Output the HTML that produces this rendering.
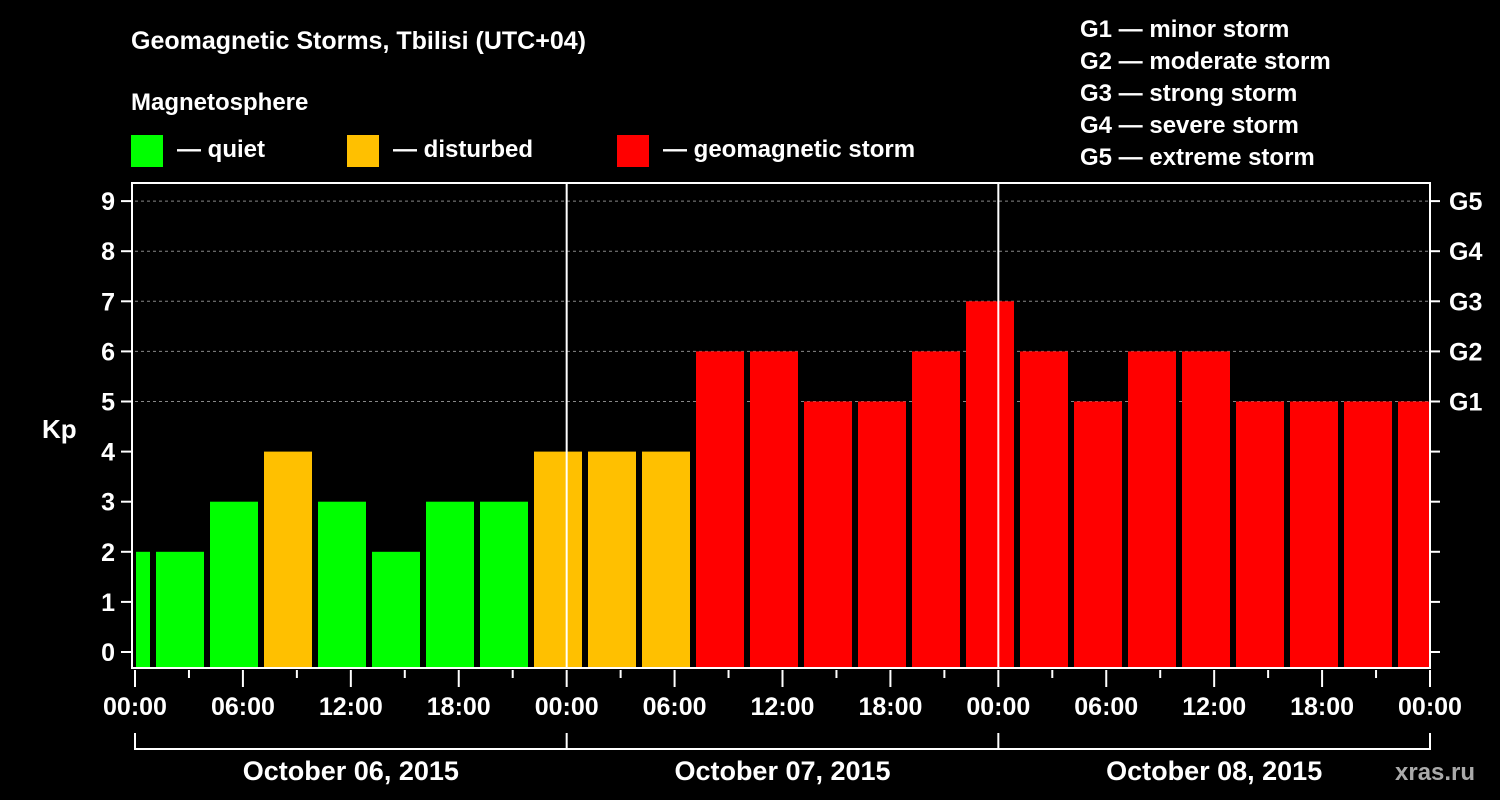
<!DOCTYPE html>
<html><head><meta charset="utf-8"><style>
html,body{margin:0;padding:0;background:#000;width:1500px;height:800px;overflow:hidden}
svg text{font-family:"Liberation Sans",Arial,sans-serif;font-weight:bold;fill:#fff}
</style></head><body>
<svg id="chart" width="1500" height="800" xmlns="http://www.w3.org/2000/svg">
<text x="131" y="49" font-size="25">Geomagnetic Storms, Tbilisi (UTC+04)</text>
<text x="131" y="110" font-size="24">Magnetosphere</text>
<g><rect x="131" y="135" width="32" height="32" fill="#00ff00"/><text x="177" y="157" font-size="24">— quiet</text></g>
<g><rect x="347" y="135" width="32" height="32" fill="#ffc000"/><text x="393" y="157" font-size="24">— disturbed</text></g>
<g><rect x="617" y="135" width="32" height="32" fill="#ff0000"/><text x="663" y="157" font-size="24">— geomagnetic storm</text></g>
<g font-size="24">
<text x="1080" y="37">G1 — minor storm</text>
<text x="1080" y="69">G2 — moderate storm</text>
<text x="1080" y="101">G3 — strong storm</text>
<text x="1080" y="133">G4 — severe storm</text>
<text x="1080" y="165">G5 — extreme storm</text>
</g>
<text x="42" y="438" font-size="26">Kp</text>
<g id="grid"></g><g id="bars"></g><g id="axes"></g>
<text x="1395" y="780" font-size="24" fill="#aaa" style="fill:#aaa">xras.ru</text>
</svg>
<script>
const kpValues=[2,2,3,4,3,2,3,3,4,4,4,6,6,5,5,6,7,6,5,6,6,5,5,5,5];
const yTicks=[0,1,2,3,4,5,6,7,8,9];
const gLabels=["G1","G2","G3","G4","G5"];
const xLabels=["00:00","06:00","12:00","18:00","00:00","06:00","12:00","18:00","00:00","06:00","12:00","18:00","00:00"];
const dayLabels=["October 06, 2015","October 07, 2015","October 08, 2015"];
const NS="http://www.w3.org/2000/svg";
const L=135,R=1430,T=183,B=668;
const pxPerHour=(R-L)/72;
const xH=h=>L+h*pxPerHour;
const yK=v=>652-v*50.1;
function mk(p,tag,at){const e=document.createElementNS(NS,tag);for(const k in at)e.setAttribute(k,at[k]);p.appendChild(e);return e;}
const grid=document.getElementById('grid'),bars=document.getElementById('bars'),axes=document.getElementById('axes');
// dashed grid 5..9
for(let v=5;v<=9;v++){const l=mk(grid,'line',{x1:L,x2:R,y1:yK(v),y2:yK(v),stroke:'#888','stroke-dasharray':'3,3','stroke-width':1});

}
// bars: each 3h starting at -2h offset (UTC+4 → intervals start at 01:00? aligned to image)
kpValues.forEach((v,i)=>{
 let x0=xH(-2/3*1+3*i-0.6)+0, x1=x0+48;
 x0=L+ (i*54) -33; x1=x0+48;
 x0=Math.max(x0,L+1); x1=Math.min(x1,R-1);
 const col=v>=5?'#ff0000':(v>=4?'#ffc000':'#00ff00');
 const r=mk(bars,'rect',{x:x0,y:yK(v),width:x1-x0,height:B-1-yK(v),fill:col});
 
 
});
// day separators
[1,2].forEach(d=>{const l=mk(axes,'line',{x1:xH(d*24),x2:xH(d*24),y1:T,y2:B,stroke:'#fff','stroke-width':2});

});
const frame=mk(axes,'rect',{x:L-3,y:T,width:R-L+3,height:B-T,fill:'none',stroke:'#fff','stroke-width':2});


yTicks.forEach(v=>{
 const y=yK(v);
 mk(axes,'line',{x1:121,x2:132,y1:y,y2:y,stroke:'#fff','stroke-width':2});
 mk(axes,'line',{x1:R,x2:R+10,y1:y,y2:y,stroke:'#fff','stroke-width':2});
 const t=mk(axes,'text',{x:115,y:y+9,'font-size':25,'text-anchor':'end'});t.textContent=v;
 
 
});
gLabels.forEach((g,i)=>{const t=mk(axes,'text',{x:1449,y:yK(5+i)+9,'font-size':25});t.textContent=g;
 
 });
for(let h=0;h<=72;h+=3){const long=h%6===0;mk(axes,'line',{x1:xH(h),x2:xH(h),y1:B+2,y2:long?B+19:B+10,stroke:'#fff','stroke-width':2});}
xLabels.forEach((s,i)=>{const t=mk(axes,'text',{x:xH(i*6),y:715,'font-size':25,'text-anchor':'middle'});t.textContent=s;
 
 });
mk(axes,'line',{x1:L,x2:R,y1:749,y2:749,stroke:'#fff','stroke-width':2});
for(let d=0;d<=3;d++)mk(axes,'line',{x1:xH(d*24),x2:xH(d*24),y1:733,y2:750,stroke:'#fff','stroke-width':2});
dayLabels.forEach((s,i)=>{const t=mk(axes,'text',{x:xH(i*24+12),y:780,'font-size':27,'text-anchor':'middle'});t.textContent=s;
 
 });
</script>
</body></html>
